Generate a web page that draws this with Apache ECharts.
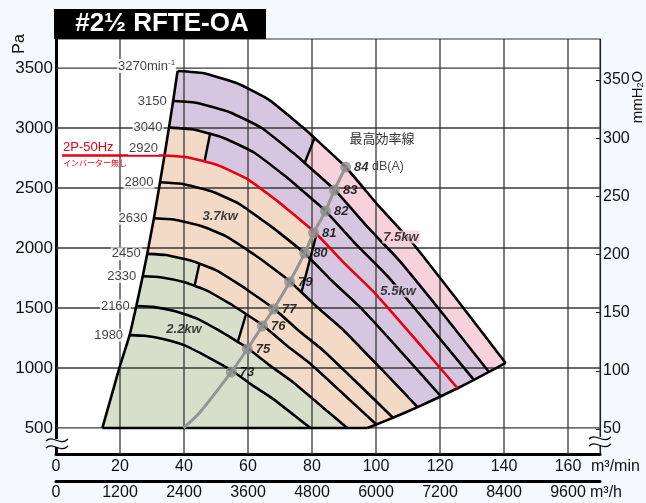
<!DOCTYPE html>
<html><head><meta charset="utf-8">
<script src="https://cdn.jsdelivr.net/npm/echarts@6/dist/echarts.min.js"></script>
<style>html,body{margin:0;padding:0;background:#f4f9fd;}#c{width:646px;height:503px;}</style>
</head><body><div id="c"></div>
<script>
// ---------- data ----------
const qTicks = [0,20,40,60,80,100,120,140,160];            // m3/min
const hTicks = [0,1200,2400,3600,4800,6000,7200,8400,9600]; // m3/h
const paTicks = [500,1000,1500,2000,2500,3000,3500];
const mmTicks = [50,100,150,200,250,300,350];
const speedLabels = ['3270','3150','3040','2920','2800','2630','2450','2330','2160','1980'];

const c3270 = [[38.0,3475],[45.8,3458],[56.4,3375],[66.7,3233],[77.0,3008],[80.8,2917],[90.5,2675],[101.1,2342],[111.4,2042],[126.1,1542],[140.5,1042]];
const c3150 = [[36.6,3225],[44.1,3209],[54.3,3132],[64.3,3000],[74.2,2791],[77.8,2707],[87.2,2482],[97.4,2173],[107.3,1895],[121.5,1431],[135.3,967]];
const c3040 = [[35.3,3003],[42.6,2989],[52.4,2917],[62.0,2794],[71.6,2600],[75.1,2521],[84.1,2312],[94.0,2024],[103.6,1765],[117.2,1333],[130.6,901]];
const c2920 = [[33.9,2771],[40.9,2757],[50.4,2691],[59.6,2578],[68.8,2399],[72.2,2326],[80.8,2133],[90.3,1868],[99.5,1628],[112.6,1230],[125.5,831]];
const c2800 = [[32.5,2548],[39.2,2535],[48.3,2475],[57.1,2370],[65.9,2205],[69.2,2139],[77.5,1961],[86.6,1717],[95.4,1497],[108.0,1131],[120.3,764]];
const c2630 = [[30.6,2248],[36.8,2237],[45.4,2183],[53.6,2091],[61.9,1946],[65.0,1887],[72.8,1730],[81.3,1515],[89.6,1321],[101.4,998],[113.0,674]];
const c2450 = [[28.5,1951],[34.3,1941],[42.3,1894],[50.0,1815],[57.7,1688],[60.5,1637],[67.8,1501],[75.7,1315],[83.5,1146],[94.5,866],[105.3,585]];
const c2330 = [[27.1,1764],[32.6,1756],[40.2,1714],[47.5,1641],[54.9,1527],[57.6,1481],[64.5,1358],[72.0,1189],[79.4,1037],[89.8,783],[100.1,529]];
const c2160 = [[25.1,1517],[30.3,1509],[37.3,1473],[44.1,1411],[50.9,1313],[53.4,1273],[59.8,1167],[66.8,1022],[73.6,891],[83.3,673],[91.0,500]];
const c1980 = [[23.0,1274],[27.7,1268],[34.1,1237],[40.4,1186],[46.6,1103],[48.9,1069],[54.8,981],[61.2,859],[67.5,749],[76.4,565],[79.5,500]];
const redLead = [[1.9,2771],[33.9,2771]];

const surge = [[14.5,500],[19.8,1000],[23.0,1274],[25.1,1517],[27.1,1764],[28.5,1951],[30.6,2248],[32.5,2548],[33.9,2771],[35.3,3003],[36.6,3225],[38.0,3475]];
const envelope = [[97.3,500],[100.1,529],[105.3,585],[113.0,674],[120.3,764],[125.5,831],[130.6,901],[135.3,967],[140.5,1042]];
const baseLine = [[14.5,500],[97.3,500]];

// motor power boundaries
const seg75 = [[80.8,2917],[77.7,2709]];
const seg55a = [[48.2,2960],[46.4,2719]];
const seg55b = [[81.4,2116],[76.7,1631]];
const seg22a = [[44.8,1868],[43.3,1683]];
const seg22b = [[59.4,1449],[56.8,1217]];

// max efficiency line
const dbValues = [84,83,82,81,80,79,77,76,75,73];
const effPoints = [[90.5,2675],[87.0,2483],[84.2,2308],[80.5,2125],[77.7,1958],[73.0,1717],[68.0,1492],[64.5,1350],[59.8,1158],[54.8,967]];
const effTail = [[44.8,625],[39.8,500]];

const regionNames = ['2.2kw','3.7kw','5.5kw','7.5kw'];
const regionLabelAt = [[40.0,1325],[51.3,2262],[106.9,1642],[107.8,2092]];

// ---------- helpers ----------
const FONT = '"Liberation Sans", Arial, Helvetica, sans-serif';
const JP = '"Noto Sans CJK JP", "Noto Sans", sans-serif';
const X_MIN = 0, X_MAX = 170, Y_MIN = 283, Y_MAX = 3742;
function interp(curve, q){
  for(let i=0;i<curve.length-1;i++){const a=curve[i],b=curve[i+1];
    if(q>=a[0]&&q<=b[0]){const t=(q-a[0])/(b[0]-a[0]);return [q,a[1]+t*(b[1]-a[1])];}}
  return q<curve[0][0]?curve[0]:curve[curve.length-1];
}
function sub(curve,q0,q1){
  const lo=Math.min(q0,q1),hi=Math.max(q0,q1);
  const pts=[interp(curve,lo)];
  curve.forEach(p=>{if(p[0]>lo&&p[0]<hi)pts.push(p);});
  pts.push(interp(curve,hi));
  return q0>q1?pts.reverse():pts;
}
const last = a => a[a.length-1];

const orangePoly = [...surge, ...c3270.slice(1), ...envelope.slice().reverse().slice(1)];
const greenPoly = [...sub(surge,14.5,c2450[0][0]), ...sub(c2450,c2450[0][0],seg22a[0][0]),
  ...sub(c2330,seg22a[1][0],seg22b[0][0]), ...sub(c2160,seg22b[1][0],last(c2160)[0])];
const purplePoly = [...c3270, ...sub(envelope,last(c3270)[0],last(c2630)[0]),
  ...sub(c2630,last(c2630)[0],seg55b[1][0]), ...sub(c2920,seg55b[0][0],seg55a[1][0]),
  ...sub(c3040,seg55a[0][0],c3040[0][0]), ...sub(surge,c3040[0][0],c3270[0][0])];
const pinkPoly = [...sub(c3270,seg75[0][0],last(c3270)[0]), ...sub(envelope,last(c3270)[0],last(c3150)[0]),
  ...sub(c3150,last(c3150)[0],seg75[1][0])];

const polys = [[orangePoly,'#f3dac7'],[greenPoly,'#d7dfca'],[purplePoly,'#d7c6e0'],[pinkPoly,'#f7d1dc']];

function lineS(data,color,width,z){
  return {type:'line',data:data,symbol:'none',smooth:0.15,z:z||3,silent:true,
    lineStyle:{color:color||'#000',width:width||2.6},emphasis:{disabled:true}};
}
const plain = v => String(v);
const GRID_COL = '#383838';
const GW = 0.65; // half width of grid lines in px

const curves = [c3270,c3150,c3040,c2920,c2800,c2630,c2450,c2330,c2160,c1980];
const series = [
  // coloured motor regions, then grid lines placed through the axes
  {type:'custom',coordinateSystem:'cartesian2d',z:3,silent:true,clip:false,data:[[50,1000]],
   renderItem:(params,api)=>{
     const ch=[];
     polys.forEach(([pts,col])=>ch.push({type:'polygon',shape:{points:pts.map(p=>api.coord(p))},style:{fill:col}}));
     qTicks.slice(1).forEach(q=>{const a=api.coord([q,Y_MIN]),b=api.coord([q,Y_MAX]);
       ch.push({type:'rect',shape:{x:a[0]-GW,y:b[1],width:2*GW,height:a[1]-b[1]},style:{fill:GRID_COL}});});
     paTicks.forEach(p=>{const a=api.coord([X_MIN,p]),b=api.coord([X_MAX,p]);
       ch.push({type:'rect',shape:{x:a[0],y:a[1]-GW,width:b[0]-a[0],height:2*GW},style:{fill:GRID_COL}});});
     return {type:'group',children:ch};
   }}
];

curves.forEach((c,i)=>{ if(i!==3) series.push(lineS(c,'#000',2.6,4)); });
series.push(lineS(surge,'#000',2.6,4), lineS(envelope,'#000',2.6,4), lineS(baseLine,'#000',2.6,4));
[seg75,seg55a,seg55b,seg22a,seg22b].forEach(s=>series.push({...lineS(s,'#000',2.4,4),smooth:false}));
series.push(lineS(c2920,'#e60012',2.6,5), {...lineS(redLead,'#e60012',2.4,5),smooth:false});
series.push({...lineS([...effPoints,...effTail],'#959595',3,6),smooth:0.3});
// efficiency markers + labels
series.push({type:'scatter',z:7,silent:true,symbol:'circle',symbolSize:11,itemStyle:{color:'#8f8f8f'},
  data:effPoints.map((p,i)=>({value:p,label:{formatter: i===0?'{b|'+dbValues[i]+'}{n| dB(A)}':'{b|'+dbValues[i]+'}'}})),
  label:{show:true,position:'right',distance:3,
    rich:{b:{fontFamily:FONT,fontSize:13,fontWeight:'bold',fontStyle:'italic',color:'#000'},
          n:{fontFamily:FONT,fontSize:12.5,color:'#222'}}}});
// speed labels
series.push({type:'scatter',z:8,silent:true,symbolSize:1,itemStyle:{color:'rgba(0,0,0,0)'},
  data:curves.map((c,i)=>{
    const item={value:c[0]};
    if(i===0) item.label={formatter:'{a|3270min}{s|-1}',offset:[4,-5]};
    else if(i===3) item.label={formatter:speedLabels[i],offset:[0,-7]};
    else item.label={formatter:speedLabels[i]};
    return item;}),
  label:{show:true,position:'left',distance:5,fontFamily:FONT,fontSize:13,color:'#111',
    backgroundColor:'#fff',padding:[0,1,0,1],
    rich:{a:{fontFamily:FONT,fontSize:13,color:'#111',backgroundColor:'#fff'},
          s:{fontFamily:FONT,fontSize:8,color:'#111',verticalAlign:'top',padding:[0,0,6,0],backgroundColor:'#fff'}}}});
// region labels
const regionBg = [null,null,'#d7c6e0','#f7d1dc'];
series.push({type:'scatter',z:8,silent:true,symbolSize:1,itemStyle:{color:'rgba(0,0,0,0)'},
  data:regionLabelAt.map((p,i)=>({value:p,label:{formatter:regionNames[i],backgroundColor:regionBg[i]||'transparent'}})),
  label:{show:true,position:'inside',fontFamily:FONT,fontSize:13,fontWeight:'bold',fontStyle:'italic',color:'#111',padding:[0,1,0,1]}});

function brk(cx,cy){
  return [
    {type:'rect',shape:{x:cx-11,y:cy-4,width:22,height:8},style:{fill:'#f4f9fd'},z:100},
    {type:'bezierCurve',shape:{x1:cx-11,y1:cy-2,cpx1:cx-4,cpy1:cy-9,cpx2:cx+3,cpy2:cy+4,x2:cx+11,y2:cy-4},style:{stroke:'#000',lineWidth:1.3,fill:null},z:101},
    {type:'bezierCurve',shape:{x1:cx-11,y1:cy+5,cpx1:cx-4,cpy1:cy-2,cpx2:cx+3,cpy2:cy+11,x2:cx+11,y2:cy+3},style:{stroke:'#000',lineWidth:1.3,fill:null},z:101}
  ];
}

const option = {
  backgroundColor:'#f4f9fd',
  animation:false,
  grid:{left:56,top:39,width:544,height:415,show:true,backgroundColor:'#fff',borderColor:'#333',borderWidth:1},
  xAxis:[
    {type:'value',min:X_MIN,max:X_MAX,position:'bottom',
     axisLine:{show:true,onZero:false,lineStyle:{color:'#000',width:3}},axisTick:{show:false},splitLine:{show:false},
     axisLabel:{customValues:qTicks,formatter:plain,margin:5,fontSize:16,color:'#111',fontFamily:FONT}},
    {type:'value',min:0,max:10200,position:'bottom',offset:27,
     axisLine:{show:true,onZero:false,lineStyle:{color:'#000',width:3}},axisTick:{show:false},splitLine:{show:false},
     axisLabel:{customValues:hTicks,formatter:plain,margin:4,fontSize:16,color:'#111',fontFamily:FONT}}
  ],
  yAxis:[
    {type:'value',min:Y_MIN,max:Y_MAX,position:'left',
     axisLine:{show:true,onZero:false,lineStyle:{color:'#000',width:3}},axisTick:{show:false},splitLine:{show:false},
     axisLabel:{customValues:paTicks,formatter:plain,margin:3,fontSize:17,color:'#111',fontFamily:FONT}},
    {type:'value',min:28.5,max:385.3,position:'right',
     axisLine:{show:true,onZero:false,lineStyle:{color:'#222',width:1.2}},
     axisTick:{show:true,inside:true,length:4,customValues:mmTicks,lineStyle:{color:'#222'}},splitLine:{show:false},
     axisLabel:{customValues:mmTicks,formatter:plain,margin:3,fontSize:16,color:'#111',fontFamily:FONT}}
  ],
  series:series,
  graphic:[
    {type:'rect',shape:{x:54,y:9,width:212,height:30},style:{fill:'#000'},z:50},
    {type:'text',x:162,y:24,style:{text:'#2½ RFTE-OA',fill:'#fff',font:'bold 26px '+FONT,textAlign:'center',textVerticalAlign:'middle'},z:51},
    {type:'text',x:20,y:44,rotation:Math.PI/2,style:{text:'Pa',fill:'#111',font:'16px '+FONT,textAlign:'center',textVerticalAlign:'middle'},z:51},
    {type:'text',x:638,y:97,rotation:Math.PI/2,style:{text:'mmH{s|2}O',fill:'#111',font:'15px '+FONT,textAlign:'center',textVerticalAlign:'middle',
      rich:{s:{fontSize:9,fontFamily:FONT,fill:'#111',verticalAlign:'bottom',padding:[6,0,0,0]}}},z:51},
    {type:'text',x:591,y:467,style:{text:'m³/min',fill:'#111',font:'16px '+FONT,textAlign:'left',textVerticalAlign:'middle'},z:51},
    {type:'text',x:590,y:493,style:{text:'m³/h',fill:'#111',font:'16px '+FONT,textAlign:'left',textVerticalAlign:'middle'},z:51},
    {type:'text',x:63,y:147,style:{text:'2P-50Hz',fill:'#e60012',font:'13px '+FONT,textAlign:'left',textVerticalAlign:'middle'},z:51},
    {type:'text',x:63,y:163,style:{text:'インバーター無し',fill:'#e60012',font:'8px '+JP,textAlign:'left',textVerticalAlign:'middle'},z:51},
    {type:'text',x:382,y:138,style:{text:'最高効率線',fill:'#333',font:'13px '+JP,textAlign:'center',textVerticalAlign:'middle'},z:51},
    ...brk(57,443), ...brk(600,441)
  ]
};
const chart = echarts.init(document.getElementById('c'));
chart.setOption(option);
</script></body></html>
